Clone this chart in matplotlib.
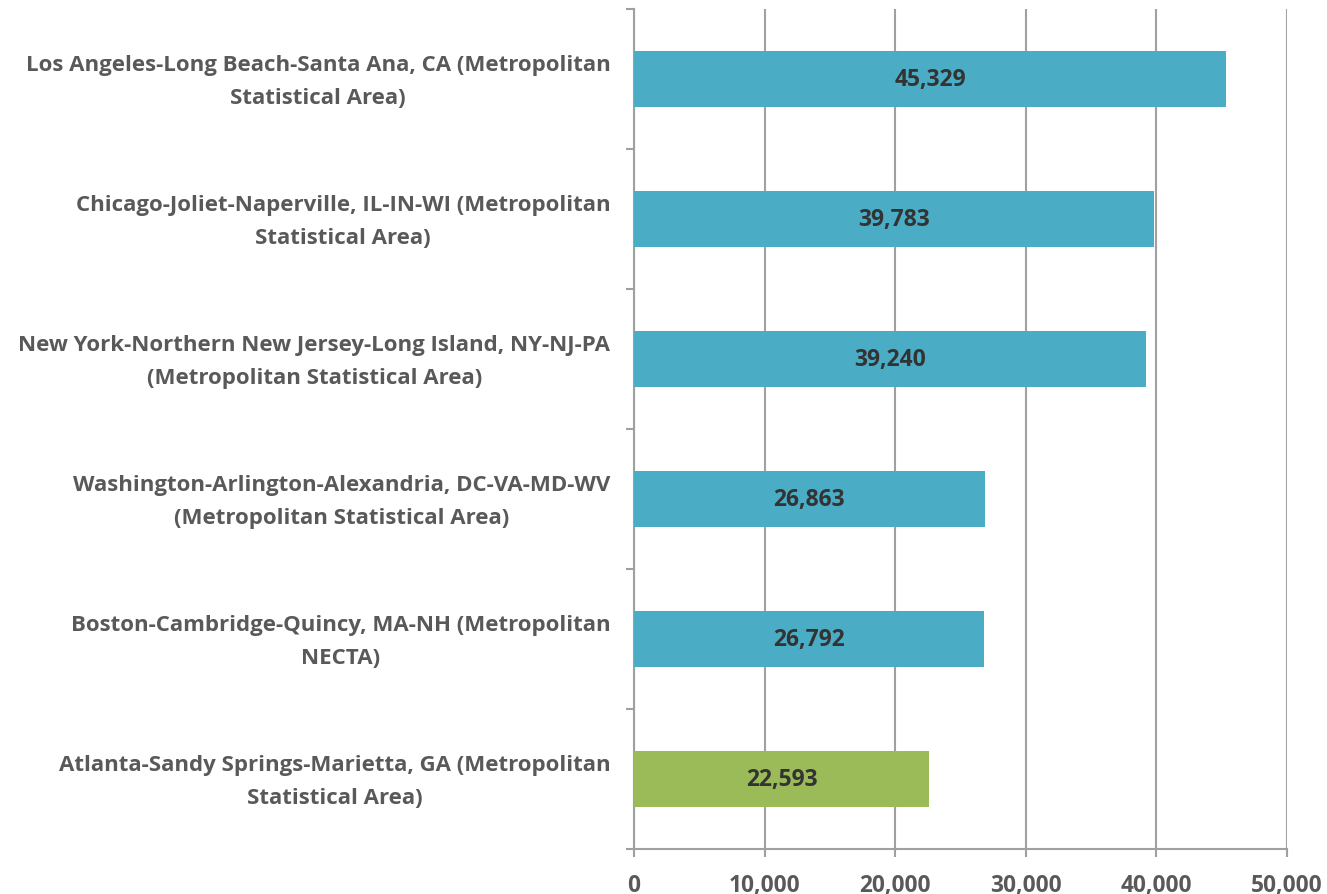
import numpy as np
import matplotlib.pyplot as plt
import matplotlib.transforms as mtransforms
from matplotlib.ticker import FuncFormatter, MultipleLocator

# ── Data ──────────────────────────────────────────────────────────────────────
areas = [
    'Los Angeles-Long Beach-Santa Ana, CA (Metropolitan\nStatistical Area)',
    'Chicago-Joliet-Naperville, IL-IN-WI (Metropolitan\nStatistical Area)',
    'New York-Northern New Jersey-Long Island, NY-NJ-PA\n(Metropolitan Statistical Area)',
    'Washington-Arlington-Alexandria, DC-VA-MD-WV\n(Metropolitan Statistical Area)',
    'Boston-Cambridge-Quincy, MA-NH (Metropolitan\nNECTA)',
    'Atlanta-Sandy Springs-Marietta, GA (Metropolitan\nStatistical Area)',
]
values = [45329, 39783, 39240, 26863, 26792, 22593]
highlight = 'Atlanta-Sandy Springs-Marietta, GA (Metropolitan\nStatistical Area)'

BLUE  = '#4BACC6'
GREEN = '#9BBB59'
GRID  = '#A0A0A0'
TEXT  = '#595959'

plt.rcParams['font.family'] = ['Open Sans', 'DejaVu Sans']

fig = plt.figure(figsize=(13.27, 8.95), dpi=100)
ax = fig.add_axes([0.4778, 0.0503, 0.9698 - 0.4778, 0.9888 - 0.0503])

y = np.arange(len(areas))
colors = [GREEN if a == highlight else BLUE for a in areas]
ax.barh(y, values, height=0.4, color=colors, zorder=3)

for yi, v in zip(y, values):
    ax.text(v / 2, yi, f'{v:,}', ha='center', va='center', fontsize=16.5,
            fontweight='bold', color='#333333', zorder=4)

ax.set_xlim(0, 50000)
ax.set_ylim(len(areas) - 0.5, -0.5)
ax.xaxis.set_major_locator(MultipleLocator(10000))
ax.xaxis.set_major_formatter(FuncFormatter(lambda v, p: f'{int(v):,}'))
ax.grid(axis='x', color=GRID, linewidth=1.5, zorder=0)

ax.set_yticks(y)
ax.set_yticklabels(areas)
ax.set_yticks(np.arange(len(areas) + 1) - 0.5, minor=True)
ax.tick_params(axis='y', which='major', length=0, pad=17, labelsize=16,
               labelcolor=TEXT)
ax.tick_params(axis='y', which='minor', length=6, width=1.5, color=GRID)
ax.tick_params(axis='x', length=6, width=1.5, color=GRID, pad=11,
               labelsize=16.3, labelcolor=TEXT)
# nudge category labels up a few pixels
shift = mtransforms.ScaledTranslation(0, 5 / 72, fig.dpi_scale_trans)
for lab in ax.get_yticklabels():
    lab.set_multialignment('center')
    lab.set_fontweight('bold')
    lab.set_linespacing(1.75)
    lab.set_transform(lab.get_transform() + shift)
for lab in ax.get_xticklabels():
    lab.set_fontweight('bold')

for s in ['top', 'right']:
    ax.spines[s].set_visible(False)
for s in ['left', 'bottom']:
    ax.spines[s].set_color(GRID)
    ax.spines[s].set_linewidth(1.5)

fig.savefig('out.png', dpi=100)
